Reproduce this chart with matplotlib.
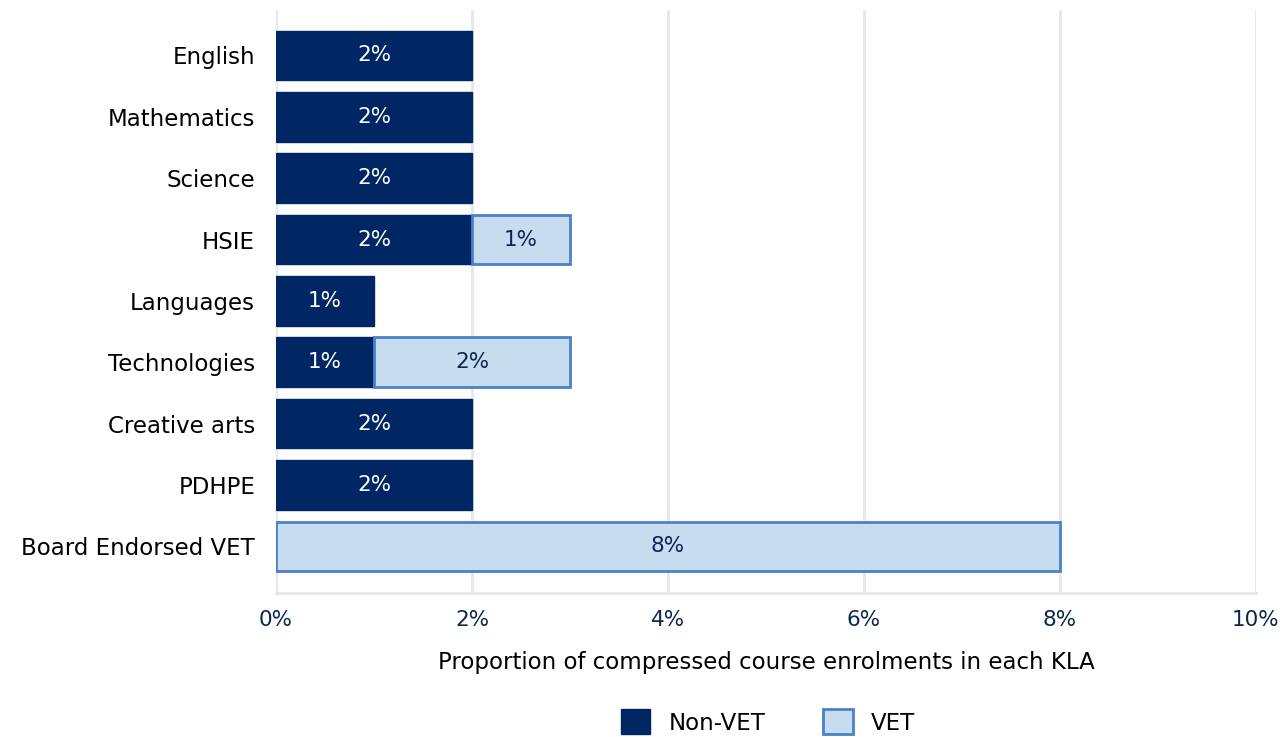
import numpy as np
import matplotlib
matplotlib.use('Agg')
import matplotlib.pyplot as plt
from matplotlib.patches import Patch

plt.rcParams['font.family'] = ['DejaVu Sans']

categories = ['English', 'Mathematics', 'Science', 'HSIE', 'Languages',
              'Technologies', 'Creative arts', 'PDHPE', 'Board Endorsed VET']
non_vet = [2, 2, 2, 2, 1, 1, 2, 2, 0]
vet = [0, 0, 0, 1, 0, 2, 0, 0, 8]
xticks = [0, 2, 4, 6, 8, 10]

navy = '#002664'
light = '#C8DCF0'
edge = '#4A82C8'
grid_c = '#E4E8EE'
text_c = '#0B2650'

fig = plt.figure(figsize=(12.87, 7.37), dpi=100)
ax = fig.add_axes([276/1287, 1-593/737, 980/1287, 583/737])

y = np.arange(len(categories))
h = 0.81
nv = np.array(non_vet, dtype=float)
v = np.array(vet, dtype=float)
m1 = nv > 0
m2 = v > 0
ax.barh(y[m1], nv[m1], height=h, color=navy, edgecolor=navy, linewidth=1, zorder=3)
ax.barh(y[m2], v[m2], left=nv[m2], height=h, color=light, edgecolor=edge, linewidth=2, zorder=3)

for i in range(len(categories)):
    if non_vet[i] > 0:
        ax.text(non_vet[i] / 2, y[i], f'{non_vet[i]}%', ha='center', va='center',
                color='white', fontsize=15.5, zorder=4)
    if vet[i] > 0:
        ax.text(non_vet[i] + vet[i] / 2, y[i], f'{vet[i]}%', ha='center', va='center',
                color=text_c, fontsize=15.5, zorder=4)

ax.set_xlim(0, 10)
ax.set_ylim(8.76, -0.74)
ax.set_xticks(xticks)
ax.set_xticklabels([f'{t}%' for t in xticks], fontsize=15.5, color=text_c)
ax.set_yticks(y)
ax.set_yticklabels(categories, fontsize=16.5, color='black')
ax.tick_params(axis='y', length=0, pad=15)
ax.tick_params(axis='x', length=0, pad=12)
ax.xaxis.grid(True, color=grid_c, linewidth=2, zorder=0)
for s in ['top', 'right', 'left']:
    ax.spines[s].set_visible(False)
ax.spines['bottom'].set_color(grid_c)
ax.spines['bottom'].set_linewidth(2)
ax.set_xlabel('Proportion of compressed course enrolments in each KLA',
              fontsize=16.5, color='black', labelpad=15)

handles = [Patch(facecolor=navy, edgecolor=navy, label='Non-VET'),
           Patch(facecolor=light, edgecolor=edge, linewidth=2, label='VET')]
fig.legend(handles=handles, loc='center', bbox_to_anchor=(768/1287, 1-722/737),
           ncol=2, frameon=False, fontsize=16.5, handlelength=1.3, handleheight=1.3,
           columnspacing=2.5, handletextpad=0.8)

fig.savefig('out.png', dpi=100)
